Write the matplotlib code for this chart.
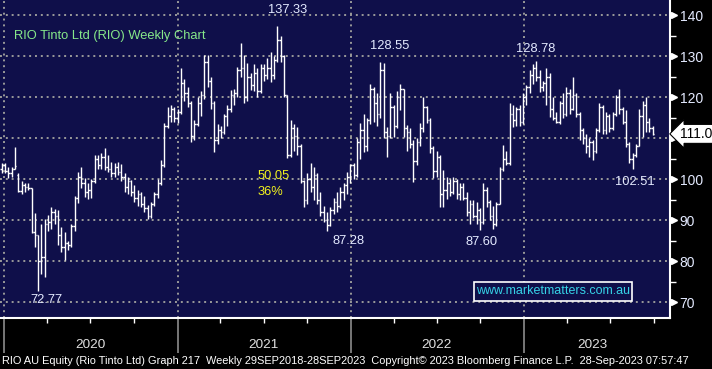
import numpy as np
import matplotlib
matplotlib.use("Agg")
import matplotlib.pyplot as plt
import matplotlib.dates as mdates
from matplotlib.patches import Rectangle
from matplotlib.transforms import blended_transform_factory, ScaledTranslation

# weekly bars, first bar = week of 27 Dec 2019
first_week = "2019-12-27"

opens = [
    102.5, 103.5, 102.0, 101.5, 102.5, 101.0, 97.2, 98.5, 98.0, 97.8,
    87.2, 86.5, 80.0, 81.0, 89.0, 89.5, 92.0, 91.0, 86.5, 83.5,
    84.5, 84.0, 88.5, 95.5, 100.5, 99.0, 97.0, 97.5, 99.5, 105.0,
    103.5, 105.5, 103.0, 102.5, 101.5, 103.0, 101.8, 100.5, 98.0, 99.5,
    97.0, 95.5, 96.5, 94.0, 93.0, 91.0, 94.0, 96.5, 99.0, 103.5,
    113.0, 115.5, 117.0, 115.0, 116.5, 123.5, 121.0, 118.5, 110.5, 113.5,
    118.5, 120.5, 128.5, 124.0, 118.5, 109.5, 112.0, 111.5, 115.5, 117.0,
    120.5, 121.0, 126.5, 127.0, 120.0, 125.0, 123.0, 126.0, 121.5, 127.0,
    125.5, 127.0, 125.5, 129.0, 134.0, 130.0, 120.5, 106.0, 112.5, 110.5,
    108.0, 99.5, 95.0, 100.0, 98.0, 101.0, 95.0, 92.0, 90.0, 88.8,
    92.5, 94.5, 93.5, 97.0, 98.5, 100.5, 103.5, 101.0, 109.0, 112.0,
    108.0, 114.5, 122.0, 118.5, 116.0, 126.5, 111.5, 110.5, 117.5, 113.0,
    120.0, 122.0, 112.5, 111.5, 108.5, 104.5, 109.0, 112.5, 117.5, 114.5,
    107.5, 102.0, 105.5, 96.5, 97.5, 99.0, 97.0, 99.5, 96.5, 98.0,
    95.5, 92.0, 94.0, 91.0, 92.5, 89.5, 97.5, 94.5, 91.0, 89.0,
    94.0, 102.5, 105.0, 104.0, 116.0, 114.5, 117.0, 114.0, 120.0, 122.5,
    125.5, 127.0, 125.0, 122.5, 123.5, 125.0, 117.0, 115.0, 114.0, 118.5,
    116.0, 121.0, 117.0, 120.5, 116.0, 112.0, 110.0, 108.0, 109.0, 107.0,
    112.0, 117.5, 112.0, 115.5, 112.5, 116.0, 120.0, 117.0, 114.0, 108.5,
    105.0, 106.0, 108.0, 115.5, 118.0, 114.0, 112.5,
]
highs = [
    104.0, 104.0, 103.0, 103.0, 107.9, 101.5, 99.5, 99.2, 99.0, 97.8,
    91.7, 86.5, 89.2, 90.4, 91.2, 93.3, 92.8, 92.5, 88.4, 87.2,
    85.0, 89.0, 96.0, 101.8, 103.0, 100.2, 99.0, 100.0, 105.9, 106.0,
    106.3, 107.5, 105.8, 104.3, 104.0, 104.2, 103.8, 101.5, 100.5, 99.8,
    98.5, 97.5, 97.0, 96.0, 93.8, 94.5, 97.0, 100.0, 104.6, 113.6,
    117.5, 118.0, 117.7, 117.0, 127.0, 124.5, 122.5, 119.0, 114.4, 120.0,
    121.5, 130.3, 130.3, 125.0, 119.0, 113.5, 113.0, 116.0, 118.0, 121.7,
    122.0, 127.4, 133.1, 130.3, 128.2, 126.0, 128.0, 127.0, 128.0, 128.0,
    129.5, 131.0, 130.0, 137.33, 135.0, 130.3, 120.5, 114.4, 113.5, 112.8,
    108.7, 99.8, 101.5, 104.0, 103.0, 101.5, 96.9, 93.5, 92.0, 93.2,
    95.5, 96.9, 98.0, 99.0, 101.8, 103.8, 104.0, 110.0, 113.6, 116.0,
    115.0, 123.3, 122.5, 121.0, 128.55, 128.2, 112.8, 120.9, 118.0, 121.5,
    123.3, 122.0, 113.2, 112.5, 109.5, 110.0, 113.6, 120.1, 117.8, 114.8,
    108.0, 107.0, 106.0, 102.2, 100.6, 100.0, 100.6, 100.0, 99.0, 99.0,
    96.9, 95.0, 95.0, 94.5, 93.0, 99.0, 98.0, 95.0, 93.5, 94.5,
    103.0, 108.3, 107.0, 118.5, 118.0, 117.5, 118.0, 121.0, 122.9, 126.6,
    128.0, 128.78, 126.6, 124.0, 127.0, 126.0, 120.1, 116.5, 119.0, 121.0,
    122.5, 122.0, 125.0, 121.0, 116.5, 112.5, 111.0, 110.0, 109.5, 112.5,
    118.5, 118.0, 116.4, 116.0, 116.5, 120.5, 122.1, 117.5, 116.8, 109.1,
    106.5, 108.5, 117.2, 119.0, 120.1, 114.8, 113.0,
]
lows = [
    101.5, 101.4, 100.2, 100.5, 102.5, 96.8, 96.3, 97.0, 97.4, 86.8,
    83.5, 72.77, 77.0, 76.2, 87.5, 88.0, 89.0, 84.0, 82.3, 80.3,
    82.7, 83.5, 87.5, 94.1, 97.8, 95.7, 95.3, 95.5, 99.0, 102.5,
    102.6, 102.2, 101.8, 100.6, 100.6, 101.0, 99.5, 97.0, 96.5, 96.0,
    94.5, 93.5, 93.3, 92.0, 90.2, 90.5, 93.5, 95.5, 98.5, 103.0,
    112.5, 114.0, 114.0, 113.8, 116.0, 119.0, 117.7, 109.1, 109.5, 113.0,
    115.5, 119.5, 122.5, 117.0, 106.7, 108.5, 110.0, 111.0, 113.0, 116.5,
    118.0, 120.1, 125.0, 118.5, 119.0, 121.7, 121.5, 120.0, 121.0, 124.0,
    124.5, 123.8, 124.5, 128.5, 128.5, 120.0, 105.1, 105.5, 107.0, 106.0,
    99.0, 93.3, 94.0, 97.0, 94.9, 94.0, 91.0, 89.5, 87.28, 88.5,
    91.6, 92.0, 93.0, 95.0, 96.5, 99.0, 100.0, 100.5, 105.0, 106.7,
    107.0, 113.5, 114.0, 113.0, 115.0, 110.0, 105.4, 110.0, 110.3, 112.5,
    116.8, 110.3, 107.0, 107.5, 99.4, 103.4, 108.0, 111.5, 113.6, 106.3,
    100.2, 100.5, 93.2, 93.3, 95.3, 96.0, 96.5, 95.3, 95.0, 94.9,
    91.0, 89.2, 90.5, 89.0, 87.6, 89.0, 93.3, 90.0, 88.0, 88.5,
    94.0, 102.0, 103.4, 103.5, 112.8, 113.0, 113.0, 113.5, 118.0, 121.0,
    123.3, 124.0, 121.3, 121.5, 118.0, 115.2, 114.5, 113.6, 113.5, 115.0,
    115.5, 116.0, 116.8, 115.2, 109.5, 108.5, 106.5, 105.5, 104.6, 106.5,
    111.5, 111.0, 111.1, 111.5, 112.0, 115.5, 116.0, 113.5, 107.9, 104.0,
    102.51, 105.5, 108.0, 110.3, 111.5, 111.5, 110.8,
]
closes = [
    103.5, 102.0, 101.5, 102.5, 103.2, 97.2, 98.5, 98.0, 97.8, 87.2,
    86.5, 80.0, 81.0, 89.0, 89.5, 92.0, 91.0, 86.5, 83.5, 84.5,
    84.0, 88.5, 95.5, 100.5, 99.0, 97.0, 97.5, 99.5, 105.0, 103.5,
    105.5, 103.0, 102.5, 101.5, 103.0, 101.8, 100.5, 98.0, 99.5, 97.0,
    95.5, 96.5, 94.0, 93.0, 91.0, 94.0, 96.5, 99.0, 103.5, 113.0,
    115.5, 117.0, 115.0, 116.5, 123.5, 121.0, 118.5, 110.5, 113.5, 118.5,
    120.5, 128.5, 124.0, 118.5, 109.5, 112.0, 111.5, 115.5, 117.0, 120.5,
    121.0, 126.5, 127.0, 120.0, 125.0, 123.0, 126.0, 121.5, 127.0, 125.5,
    127.0, 125.5, 129.0, 134.0, 130.0, 120.5, 106.0, 112.5, 110.5, 108.0,
    99.5, 95.0, 100.0, 98.0, 101.0, 95.0, 92.0, 90.0, 88.8, 92.5,
    94.5, 93.5, 97.0, 98.5, 100.5, 103.5, 101.0, 109.0, 112.0, 108.0,
    114.5, 122.0, 118.5, 116.0, 126.5, 111.5, 110.5, 117.5, 113.0, 120.0,
    122.0, 112.5, 111.5, 108.5, 104.5, 109.0, 112.5, 117.5, 114.5, 107.5,
    102.0, 105.5, 96.5, 97.5, 99.0, 97.0, 99.5, 96.5, 98.0, 95.5,
    92.0, 94.0, 91.0, 92.5, 89.5, 97.5, 94.5, 91.0, 89.0, 94.0,
    102.5, 105.0, 104.0, 116.0, 114.5, 117.0, 114.0, 120.0, 122.5, 125.5,
    127.0, 125.0, 122.5, 123.5, 125.0, 117.0, 115.0, 114.0, 118.5, 116.0,
    121.0, 117.0, 120.5, 116.0, 112.0, 110.0, 108.0, 109.0, 107.0, 112.0,
    117.5, 112.0, 115.5, 112.5, 116.0, 120.0, 117.0, 114.0, 108.5, 105.0,
    106.0, 108.0, 115.5, 118.0, 114.0, 112.5, 111.05,
]
last_price = 111.05
years = ["2020", "2021", "2022", "2023"]
# label text, x px, y px
price_notes = [("137.33", 288, 10), ("128.55", 390, 46), ("128.78", 536, 49),
               ("72.77", 46, 300), ("87.28", 349, 241), ("87.60", 482, 242),
               ("102.51", 635, 182)]
footer = "RIO AU Equity (Rio Tinto Ltd) Graph 217  Weekly 29SEP2018-28SEP2023  Copyright\u00a9 2023 Bloomberg Finance L.P.  28-Sep-2023 07:57:47"

plt.rcParams['font.family'] = ['Liberation Sans', 'DejaVu Sans']

W, H = 712, 369
NAVY = "#0f0f4a"
GRID = "#9a9a9a"
LABEL = "#e4eaff"
NUM_FS = 9.3

fig = plt.figure(figsize=(W / 100, H / 100), dpi=100, facecolor="black")
ax = fig.add_axes([0, 51 / H, 670 / W, 318 / H])
ax.set_facecolor(NAVY)

def fx(x):
    return x / W

def fy(y):
    return 1 - y / H

d0 = mdates.datestr2num(first_week)
xs = d0 + 7 * np.arange(len(closes))
d2020 = mdates.datestr2num("2020-01-01")
ppd = 173.3 / 365.25  # pixels per day
ax.set_xlim(d2020 - 4 / ppd, d2020 + 666 / ppd)
ax.set_ylim(66.2, 143.66)

# OHLC bars
tick = 3.3
ax.vlines(xs, lows, highs, color="white", lw=1.0, zorder=3)
ax.hlines(opens, xs - tick, xs, color="white", lw=1.0, zorder=3)
ax.hlines(closes, xs, xs + tick, color="white", lw=1.0, zorder=3)

# grid
year_starts = [mdates.datestr2num(f"{y}-01-01") for y in years]
for lvl in range(70, 141, 10):
    ax.axhline(lvl, color=GRID, lw=1.4, ls=(0, (1, 2)), zorder=1)
for ys in year_starts:
    ax.axvline(ys, color=GRID, lw=1.4, ls=(0, (1, 2)), zorder=1)

# spines
for s in ["top", "left"]:
    ax.spines[s].set_visible(False)
ax.spines["right"].set_color("white")
ax.spines["right"].set_linewidth(1.5)
ax.spines["bottom"].set_color("white")
ax.spines["bottom"].set_linewidth(1.5)

# x axis ticks
quarters = [mdates.datestr2num(f"{y}-{m:02d}-01") for y in range(2020, 2024) for m in (4, 7, 10)]
ax.set_xticks(year_starts)
ax.set_xticks(quarters, minor=True)
ax.tick_params(axis="x", which="major", length=25, width=1.2, color="#8c8c8c", labelbottom=False)
ax.tick_params(axis="x", which="minor", length=3.5, width=1.0, color="white")

# right price axis (110 is hidden behind the last price tag)
ax.yaxis.tick_right()
ax.set_yticks(range(70, 141, 10))
ax.set_yticks(range(75, 140, 10), minor=True)
ax.set_yticklabels(["" if v == 110 else str(v) for v in range(70, 141, 10)])
ax.tick_params(axis="y", which="major", length=0, pad=7, labelsize=NUM_FS + 0.7, labelcolor=LABEL)
ax.tick_params(axis="y", which="minor", length=4, width=1.0, color="white")
tr = blended_transform_factory(ax.transAxes, ax.transData)
off = ScaledTranslation(4 / 100, 0, fig.dpi_scale_trans)
ax.plot([1.0] * 8, list(range(70, 141, 10)), ls="none", marker=">", ms=5,
        color="white", mec="white", transform=tr + off, clip_on=False, zorder=5)

# last price tag
ax.text(1.0, last_price, f"{last_price:.2f}",
        transform=tr + ScaledTranslation(10 / 100, 0, fig.dpi_scale_trans),
        ha="left", va="center", fontsize=NUM_FS + 0.7, color="black", zorder=10, clip_on=False,
        bbox=dict(boxstyle="larrow,pad=0.18", fc="white", ec="black", lw=0.8))

# year labels in the footer band
label_x = [90, 263, 436, 592]
for y, lx in zip(years, label_x):
    fig.text(fx(lx), fy(345), y, ha="center", va="center", fontsize=NUM_FS + 0.4, color="#e0e0e0")

fig.text(fx(2), fy(361), footer, ha="left", va="center", fontsize=7.9, color="white")

# annotations
fig.text(fx(14), fy(36), "RIO Tinto Ltd (RIO) Weekly Chart", ha="left", va="center",
         fontsize=9.3, color="#86e88a")
for txt, x, y in price_notes:
    fig.text(fx(x), fy(y), txt, ha="center", va="center", fontsize=NUM_FS, color=LABEL)
fig.text(fx(258), fy(176), "50.05", ha="left", va="center", fontsize=NUM_FS, color="#f2f21e")
fig.text(fx(258), fy(192), "36%", ha="left", va="center", fontsize=NUM_FS, color="#f2f21e")

# watermark
fig.add_artist(Rectangle((fx(474), fy(301)), fx(632) - fx(474), fy(282) - fy(301),
                         transform=fig.transFigure, fc=NAVY, ec="white", lw=1.2, zorder=20))
fig.text(fx(553), fy(291.5), "www.marketmatters.com.au", ha="center", va="center",
         fontsize=9.0, color="#36d2e6", zorder=21)

fig.savefig("out.png", dpi=100, facecolor="black")
